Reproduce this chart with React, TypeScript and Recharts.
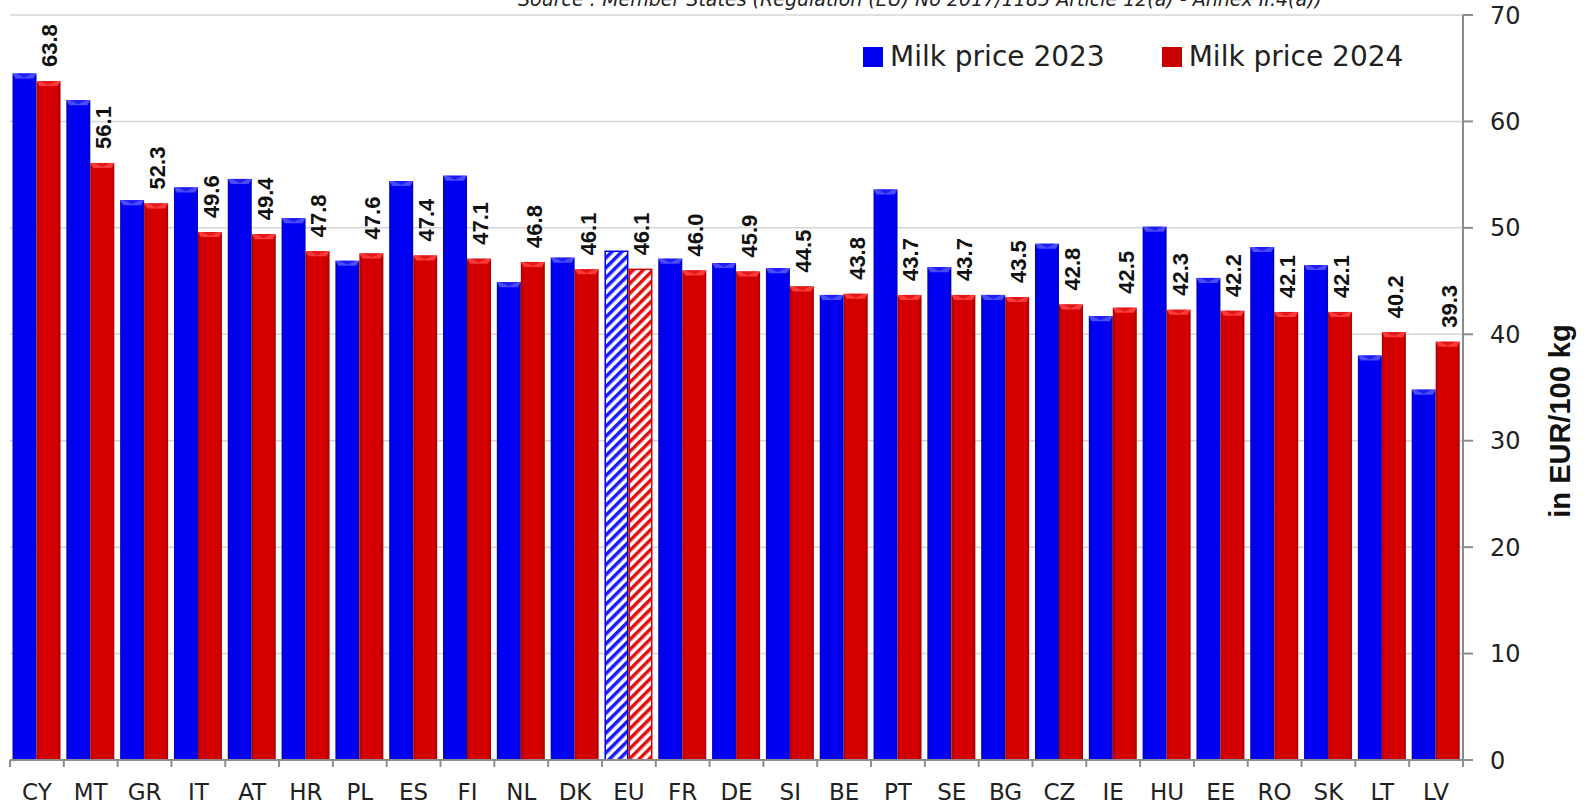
import { BarChart, Bar, XAxis, YAxis, CartesianGrid, LabelList } from "recharts";

const countries = [
  "CY", "MT", "GR", "IT", "AT", "HR", "PL", "ES", "FI", "NL", "DK", "EU", "FR", "DE",
  "SI", "BE", "PT", "SE", "BG", "CZ", "IE", "HU", "EE", "RO", "SK", "LT", "LV",
];

// 2023 values (no labels in the original)
const price2023 = [
  64.5, 62.0, 52.6, 53.8, 54.6, 50.9, 46.9, 54.4, 54.9, 44.9, 47.2, 47.8, 47.1, 46.7,
  46.2, 43.7, 53.6, 46.3, 43.7, 48.5, 41.7, 50.1, 45.3, 48.2, 46.5, 38.0, 34.8,
];

const price2024 = [
  63.8, 56.1, 52.3, 49.6, 49.4, 47.8, 47.6, 47.4, 47.1, 46.8, 46.1, 46.1, 46.0, 45.9,
  44.5, 43.8, 43.7, 43.7, 43.5, 42.8, 42.5, 42.3, 42.2, 42.1, 42.1, 40.2, 39.3,
];

const yTicks = [0, 10, 20, 30, 40, 50, 60, 70];

const data = countries.map((c, i) => ({
  country: c,
  p2023: price2023[i],
  p2024: price2024[i],
}));

const PLOT_LEFT = 10;
const PLOT_RIGHT = 1463;
const BAND = (PLOT_RIGHT - PLOT_LEFT) / countries.length;
const AXIS_GREY = "#8c8c8c";
const TEXT = "#222";

const makeShape = (kind: "blue" | "red") => (props: any) => {
  const { x, y, width, height, payload } = props;
  if (!height || height <= 0) return <g />;
  const main = kind === "blue" ? "#0000f0" : "#d00000";
  const light = kind === "blue" ? "#4a4aff" : "#ff3a3a";
  if (payload && payload.country === "EU") {
    return (
      <rect
        x={x + 0.75}
        y={y}
        width={width - 1.5}
        height={height}
        fill={kind === "blue" ? "url(#hatchBlue)" : "url(#hatchRed)"}
        stroke={main}
        strokeWidth={1.5}
      />
    );
  }
  return (
    <g>
      <rect x={x} y={y} width={width} height={height} fill={kind === "blue" ? "url(#gradBlue)" : "url(#gradRed)"} />
      <polygon
        points={`${x},${y} ${x + width},${y} ${x + width - 3},${y + 5} ${x + 3},${y + 5}`}
        fill={light}
      />
      <polygon
        points={`${x + 4},${y} ${x + width - 4},${y} ${x + width / 2},${y + 4}`}
        fill={main}
        opacity={0.6}
      />
    </g>
  );
};

const XTick = (props: any) => {
  const { x, y, payload, index } = props;
  return (
    <g>
      <line x1={x - BAND / 2} x2={x - BAND / 2} y1={y} y2={y + 7} stroke={AXIS_GREY} strokeWidth={2} />
      {index === countries.length - 1 && (
        <line x1={x + BAND / 2} x2={x + BAND / 2} y1={y} y2={y + 7} stroke={AXIS_GREY} strokeWidth={2} />
      )}
      <text x={x} y={y + 40} textAnchor="middle" fontSize={23} fill={TEXT} fontFamily="DejaVu Sans">
        {payload.value}
      </text>
    </g>
  );
};

const ValueLabel = (props: any) => {
  const { x, y, width, value } = props;
  const cx = x + width / 2 + 1;
  const ty = y - 14;
  return (
    <text
      x={cx}
      y={ty}
      dy="0.36em"
      transform={`rotate(-90, ${cx}, ${ty})`}
      textAnchor="start"
      fontSize={22}
      fontWeight="bold"
      fontFamily="Liberation Sans"
      fill="#111"
    >
      {Number(value).toFixed(1)}
    </text>
  );
};

const LegendBox = () => (
  <div
    style={{
      position: "absolute",
      left: 863,
      top: 40,
      display: "flex",
      alignItems: "center",
      fontFamily: "DejaVu Sans",
      fontSize: 28,
      color: TEXT,
    }}
  >
    <span style={{ width: 20, height: 20, background: "#0000f0", display: "inline-block", marginRight: 7 }} />
    <span>Milk price 2023</span>
    <span style={{ width: 20, height: 20, background: "#c80000", display: "inline-block", marginLeft: 57, marginRight: 7 }} />
    <span>Milk price 2024</span>
  </div>
);

export default function App() {
  return (
    <div style={{ position: "absolute", left: 0, top: 0, width: 1596, height: 805, background: "#fff" }}>
      <BarChart
        width={1596}
        height={805}
        data={data}
        margin={{ top: 15, right: 53, left: 10, bottom: 5 }}
        barGap={0}
        barCategoryGap={2.5}
      >
        <defs>
          <linearGradient id="gradBlue" x1="0" y1="0" x2="1" y2="0">
            <stop offset="0%" stopColor="#0000c8" />
            <stop offset="15%" stopColor="#0000f5" />
            <stop offset="85%" stopColor="#0000f5" />
            <stop offset="100%" stopColor="#0000c0" />
          </linearGradient>
          <linearGradient id="gradRed" x1="0" y1="0" x2="1" y2="0">
            <stop offset="0%" stopColor="#b00000" />
            <stop offset="15%" stopColor="#d40000" />
            <stop offset="85%" stopColor="#d40000" />
            <stop offset="100%" stopColor="#a80000" />
          </linearGradient>
          <pattern id="hatchBlue" patternUnits="userSpaceOnUse" width={7} height={7} patternTransform="rotate(45)">
            <rect width={7} height={7} fill="#fff" />
            <rect width={3.5} height={7} fill="#1a1aff" />
          </pattern>
          <pattern id="hatchRed" patternUnits="userSpaceOnUse" width={7} height={7} patternTransform="rotate(45)">
            <rect width={7} height={7} fill="#fff" />
            <rect width={3.5} height={7} fill="#e01010" />
          </pattern>
        </defs>
        <CartesianGrid vertical={false} stroke="#d6d6d6" strokeWidth={1.5} />
        <XAxis
          dataKey="country"
          interval={0}
          height={40}
          tickLine={false}
          tickSize={0}
          tickMargin={0}
          axisLine={{ stroke: AXIS_GREY, strokeWidth: 2 }}
          tick={<XTick />}
        />
        <YAxis
          orientation="right"
          width={80}
          domain={[0, 70]}
          ticks={yTicks}
          interval={0}
          axisLine={{ stroke: AXIS_GREY, strokeWidth: 2 }}
          tickLine={{ stroke: AXIS_GREY, strokeWidth: 2 }}
          tickSize={10}
          tickMargin={17}
          tick={{ fontSize: 24, fontFamily: "DejaVu Sans", fill: TEXT }}
        />
        <Bar dataKey="p2023" name="Milk price 2023" fill="#0000f0" shape={makeShape("blue")} isAnimationActive={false} />
        <Bar dataKey="p2024" name="Milk price 2024" fill="#d00000" shape={makeShape("red")} isAnimationActive={false}>
          <LabelList dataKey="p2024" content={<ValueLabel />} />
        </Bar>
        <text
          x={920}
          y={6}
          textAnchor="middle"
          fontSize={19}
          fontStyle="italic"
          fontFamily="DejaVu Sans"
          fill={TEXT}
        >
          Source : Member States (Regulation (EU) No 2017/1185 Article 12(a) - Annex II.4(a))
        </text>
        <text
          x={1570}
          y={421}
          textAnchor="middle"
          transform="rotate(-90, 1570, 421)"
          fontSize={29}
          fontWeight="bold"
          fontFamily="Liberation Sans"
          fill="#111"
        >
          in EUR/100 kg
        </text>
      </BarChart>
      <LegendBox />
    </div>
  );
}
